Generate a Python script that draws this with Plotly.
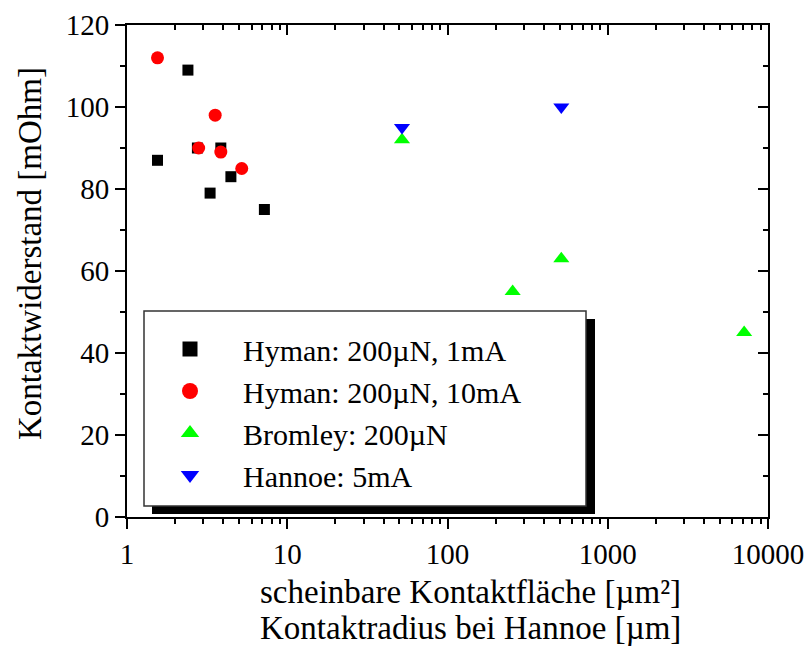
import plotly.graph_objects as go

# Data
hyman1_x = [1.55, 2.4, 2.75, 3.3, 3.85, 4.45, 7.2]
hyman1_y = [87, 109, 90, 79, 90, 83, 75]
hyman10_x = [1.55, 2.8, 3.55, 3.85, 5.2]
hyman10_y = [112, 90, 98, 89, 85]
bromley_x = [52, 255, 513, 7100]
bromley_y = [92, 55, 63, 45]
hannoe_x = [52, 513]
hannoe_y = [95, 100]

names = ["Hyman: 200µN, 1mA", "Hyman: 200µN, 10mA", "Bromley: 200µN", "Hannoe: 5mA"]
colors = ["#000000", "#FF0000", "#00FF00", "#0000FF"]
symbols = ["square", "circle", "triangle-up", "triangle-down"]
sizes = [11, 13, 14, 14]
legend_sizes = [15, 18, 19, 19]
xs = [hyman1_x, hyman10_x, bromley_x, hannoe_x]
ys = [hyman1_y, hyman10_y, bromley_y, hannoe_y]

FONT = "Liberation Serif, Times New Roman, serif"

fig = go.Figure()
for i in range(4):
    fig.add_trace(go.Scatter(x=xs[i], y=ys[i], mode="markers", name=names[i],
                             marker=dict(symbol=symbols[i], color=colors[i], size=sizes[i],
                                         line=dict(width=0)),
                             showlegend=False))
# legend-only entries (larger symbols as in the reference legend)
for i in range(4):
    fig.add_trace(go.Scatter(x=[None], y=[None], mode="markers", name=names[i],
                             marker=dict(symbol=symbols[i], color=colors[i], size=legend_sizes[i],
                                         line=dict(width=0)),
                             showlegend=True))
# dummy trace for mirrored axes
fig.add_trace(go.Scatter(x=[None], y=[None], xaxis="x2", yaxis="y2", showlegend=False,
                         hoverinfo="skip"))

W, H = 808, 648
L, R, T, B = 127, 40, 25, 131
pw, ph = W - L - R, H - T - B

def px_x(p):
    return (p - L) / pw

def px_y(p):
    return (H - B - p) / ph

minor_x = [m * 10 ** d for d in range(4) for m in range(2, 10)]
minor_y = [10, 30, 50, 70, 90, 110]

fig.update_layout(
    width=W, height=H, autosize=False,
    margin=dict(l=L, r=R, t=T, b=B, autoexpand=False),
    paper_bgcolor="white", plot_bgcolor="white",
    font=dict(family=FONT, size=29, color="black"),
    showlegend=True,
    legend=dict(x=px_x(137), y=px_y(323), xanchor="left", yanchor="top",
                bgcolor="rgba(0,0,0,0)", borderwidth=0,
                font=dict(family=FONT, size=30, color="black"),
                itemwidth=96, tracegroupgap=0),
    xaxis=dict(type="log", range=[0, 4], showgrid=False, zeroline=False, automargin=False,
               showline=True, linecolor="black", linewidth=2,
               ticks="outside", ticklen=10, tickwidth=2, tickcolor="black",
               tickvals=[1, 10, 100, 1000, 10000],
               ticktext=["1", "10", "100", "1000", "10000"],
               minor=dict(ticks="outside", ticklen=5, tickwidth=1.5, tickcolor="black",
                          tickvals=minor_x, showgrid=False),
               tickfont=dict(family=FONT, size=29, color="black")),
    yaxis=dict(range=[0, 120], showgrid=False, zeroline=False, automargin=False,
               showline=True, linecolor="black", linewidth=2,
               ticks="outside", ticklen=10, tickwidth=2, tickcolor="black",
               tickvals=[0, 20, 40, 60, 80, 100, 120],
               minor=dict(ticks="outside", ticklen=5, tickwidth=1.5, tickcolor="black",
                          tickvals=minor_y, showgrid=False),
               tickfont=dict(family=FONT, size=29, color="black")),
    xaxis2=dict(type="log", range=[0, 4], overlaying="x", side="top", anchor="y2",
                automargin=False,
                showgrid=False, zeroline=False, showline=True, linecolor="black", linewidth=2,
                ticks="inside", ticklen=10, tickwidth=2, tickcolor="black",
                tickvals=[1, 10, 100, 1000, 10000], showticklabels=False,
                minor=dict(ticks="inside", ticklen=5, tickwidth=1.5, tickcolor="black",
                           tickvals=minor_x, showgrid=False)),
    yaxis2=dict(range=[0, 120], overlaying="y", side="right", anchor="x2",
                automargin=False,
                showgrid=False, zeroline=False, showline=True, linecolor="black", linewidth=2,
                ticks="inside", ticklen=10, tickwidth=2, tickcolor="black",
                tickvals=[0, 20, 40, 60, 80, 100, 120], showticklabels=False,
                minor=dict(ticks="inside", ticklen=5, tickwidth=1.5, tickcolor="black",
                           tickvals=minor_y, showgrid=False)),
    shapes=[
        dict(type="rect", xref="paper", yref="paper",
             x0=px_x(152), x1=px_x(595), y0=px_y(514), y1=px_y(319),
             fillcolor="black", line=dict(width=0), layer="above"),
        dict(type="rect", xref="paper", yref="paper",
             x0=px_x(144), x1=px_x(586), y0=px_y(506), y1=px_y(311),
             fillcolor="white", line=dict(color="#333333", width=1.5), layer="above"),
    ],
    annotations=[
        dict(text="Kontaktwiderstand [mOhm]", xref="paper", yref="paper",
             x=px_x(30), y=px_y(254), textangle=-90, showarrow=False,
             xanchor="center", yanchor="middle",
             font=dict(family=FONT, size=33, color="black")),
        dict(text="scheinbare Kontaktfläche [µm²]",
             xref="paper", yref="paper", x=px_x(470), y=px_y(592), showarrow=False,
             xanchor="center", yanchor="middle",
             font=dict(family=FONT, size=33, color="black")),
        dict(text="Kontaktradius bei Hannoe [µm]",
             xref="paper", yref="paper", x=px_x(470), y=px_y(628), showarrow=False,
             xanchor="center", yanchor="middle",
             font=dict(family=FONT, size=33, color="black")),
    ],
)

fig.write_html("out.html")
